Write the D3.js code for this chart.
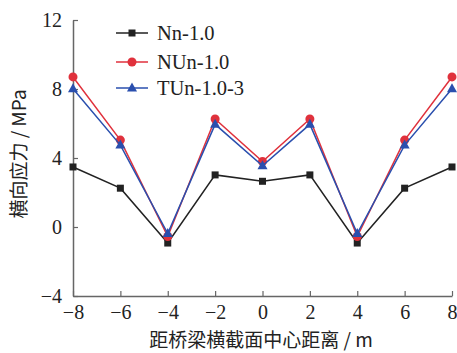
<!DOCTYPE html>
<html>
<head>
<meta charset="utf-8">
<script src="https://cdn.jsdelivr.net/npm/d3@7"></script>
<style>
  body { margin: 0; background: #fff; }
</style>
</head>
<body>
<div id="chart"></div>
<script>
// distance from bridge cross-section centre (m)
const distances = [-8, -6, -4, -2, 0, 2, 4, 6, 8];
const xTicks = [-8, -6, -4, -2, 0, 2, 4, 6, 8];
const yTicks = [-4, 0, 4, 8, 12];

const seriesNames = ['Nn-1.0', 'NUn-1.0', 'TUn-1.0-3'];
const nnValues = [3.48, 2.25, -0.93, 3.02, 2.65, 3.02, -0.93, 2.25, 3.48];
const nunValues = [8.7, 5.04, -0.55, 6.26, 3.8, 6.26, -0.55, 5.04, 8.7];
const tunValues = [8.02, 4.75, -0.38, 5.95, 3.55, 5.95, -0.38, 4.75, 8.02];

const colors = ['#222222', '#e0313c', '#2a4fae'];
const markers = ['square', 'circle', 'triangle'];

const serif = '"Liberation Serif", "Times New Roman", serif';
const cjk = '"Noto Sans CJK SC", sans-serif';

const svgWidth = 457, svgHeight = 353;
const margin = {top: 20, right: 5, bottom: 57, left: 73};
const width = svgWidth - margin.left - margin.right;
const height = svgHeight - margin.top - margin.bottom;

const svg = d3.select('#chart').append('svg')
    .attr('width', svgWidth)
    .attr('height', svgHeight);

const g = svg.append('g')
    .attr('transform', 'translate(' + [margin.left, margin.top] + ')');

const xScale = d3.scaleLinear().domain([-8, 8]).range([0, 379]);
const yScale = d3.scaleLinear().domain([-4, 12]).range([height, 0]);

const axisColor = '#666';

// x axis (ticks pointing inward)
const xAxisG = g.append('g')
    .attr('font-family', serif)
    .attr('font-size', 20)
    .call(d3.axisBottom(xScale).tickValues(xTicks).tickSizeInner(-5).tickSizeOuter(0)
        .tickPadding(9).tickFormat(d => d < 0 ? '\u2212' + Math.abs(d) : d))
    .attr('transform', 'translate(0,' + height + ')')
    .attr('font-family', serif)
    .attr('font-size', 20);
xAxisG.select('.domain').attr('stroke', axisColor).attr('stroke-width', 1.5);
xAxisG.selectAll('.tick line').attr('stroke', axisColor).attr('stroke-width', 1.2);
xAxisG.selectAll('.tick text')
    .style('font-family', serif)
    .style('font-size', '20px').attr('fill', '#222');

// y axis
const yAxisG = g.append('g')
    .call(d3.axisLeft(yScale).tickValues(yTicks).tickSizeInner(-5).tickSizeOuter(0)
        .tickPadding(11).tickFormat(d => d < 0 ? '\u2212' + Math.abs(d) : d))
    .attr('font-family', serif)
    .attr('font-size', 20);
yAxisG.select('.domain').attr('stroke', axisColor).attr('stroke-width', 1.5);
yAxisG.selectAll('.tick line').attr('stroke', axisColor).attr('stroke-width', 1.2);
yAxisG.selectAll('.tick text')
    .style('font-family', serif)
    .style('font-size', '20px').attr('fill', '#222');

// axis titles
svg.append('text')
    .attr('x', 261)
    .attr('y', 347)
    .attr('text-anchor', 'middle')
    .style('font-family', cjk)
    .style('font-size', '19px')
    .attr('fill', '#222')
    .text('距桥梁横截面中心距离 / m');

svg.append('text')
    .attr('transform', 'translate(26,154) rotate(-90)')
    .attr('text-anchor', 'middle')
    .style('font-family', cjk)
    .style('font-size', '19px')
    .attr('fill', '#222')
    .text('横向应力 / MPa');

function drawMarker(sel, type, color) {
    if (type === 'square') {
        sel.append('rect').attr('x', -3.5).attr('y', -3.5).attr('width', 7).attr('height', 7)
            .attr('fill', color);
    } else if (type === 'circle') {
        sel.append('circle').attr('r', 4.5).attr('fill', color);
    } else {
        sel.append('path').attr('d', 'M0,-5.5L5,3.5L-5,3.5Z').attr('fill', color);
    }
}

const allSeries = [nnValues, nunValues, tunValues];
const line = d3.line()
    .x((d, i) => xScale(distances[i]))
    .y(d => yScale(d));

allSeries.forEach((values, s) => {
    g.append('path')
        .datum(values)
        .attr('fill', 'none')
        .attr('stroke', colors[s])
        .attr('stroke-width', 1.5)
        .attr('d', line);

    values.forEach((v, i) => {
        const m = g.append('g')
            .attr('transform', 'translate(' + [xScale(distances[i]), yScale(v)] + ')');
        drawMarker(m, markers[s], colors[s]);
    });
});

// legend
const legendY = [33, 62, 88];
seriesNames.forEach((name, s) => {
    const lg = svg.append('g').attr('transform', 'translate(116,' + legendY[s] + ')');
    lg.append('line').attr('x1', 0).attr('x2', 32).attr('y1', 0).attr('y2', 0)
        .attr('stroke', colors[s]).attr('stroke-width', 1.5);
    const m = lg.append('g').attr('transform', 'translate(16,0)');
    drawMarker(m, markers[s], colors[s]);
    lg.append('text').attr('x', 41).attr('y', 7)
        .style('font-family', serif)
        .style('font-size', '20.5px')
        .attr('fill', '#222')
        .text(name);
});
</script>
</body>
</html>
